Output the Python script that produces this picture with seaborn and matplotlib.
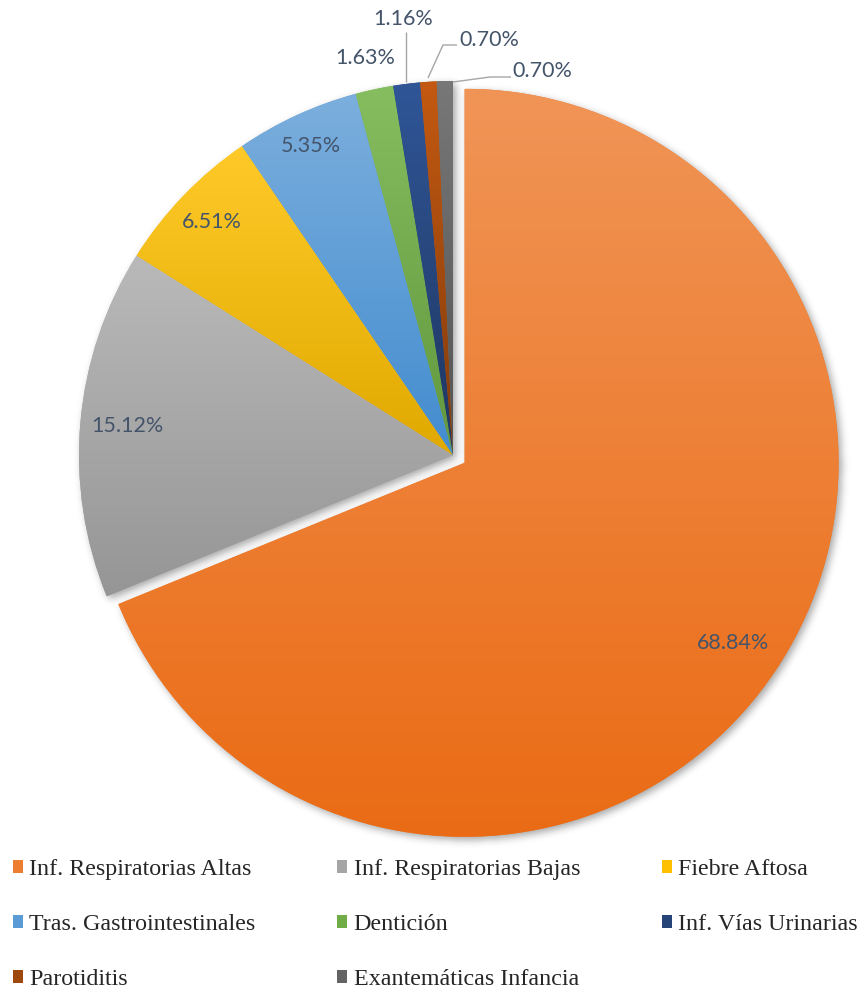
import colorsys
import numpy as np
import matplotlib
matplotlib.use("Agg")
import matplotlib.pyplot as plt
import seaborn as sns
from matplotlib.patches import Patch
from matplotlib.colors import to_rgb

# Diagnoses and their share of consultations (%)
categories = ["Inf. Respiratorias Altas", "Inf. Respiratorias Bajas", "Fiebre Aftosa",
              "Tras. Gastrointestinales", "Dentición", "Inf. Vías Urinarias",
              "Parotiditis", "Exantemáticas Infancia"]
percentages = [68.84, 15.12, 6.51, 5.35, 1.63, 1.16, 0.70, 0.70]
colors = ["#ED7D31", "#A5A5A5", "#FFC000", "#5B9BD5", "#70AD47", "#264478", "#9E480E", "#636363"]

sns.set_theme(style="white")
plt.rcParams["font.family"] = ["Lato", "DejaVu Sans"]

W, H = 859, 992
fig = plt.figure(figsize=(W / 100, H / 100), dpi=100)
ax = fig.add_axes([0, 0, 1, 1])

cx, cy, R = 453, H - 455, 374
explode = [14, 0, 0, 0, 0, 0, 0, 0]

wedges, _ = ax.pie(percentages, colors=colors, startangle=90, counterclock=False,
                   radius=R, center=(cx, cy), explode=explode,
                   wedgeprops=dict(linewidth=0), frame=True)


def shift_lightness(c, dl):
    h, l, s = colorsys.rgb_to_hls(*to_rgb(c))
    return np.array(colorsys.hls_to_rgb(h, min(max(l + dl, 0), 1), s))


# vertical gradient inside every slice: lighter on top, deeper at the bottom
for w, c in zip(wedges, colors):
    w.set_zorder(2)
    ext = w.get_path().get_extents()
    top = shift_lightness(c, 0.08)
    bot = shift_lightness(c, -0.06)
    t = np.linspace(0, 1, 256)[:, None]
    grad = np.clip(bot + (top - bot) * t, 0, 1)
    img = ax.imshow(grad[:, None, :], extent=(ext.x0, ext.x1, ext.y0, ext.y1),
                    origin="lower", aspect="auto", zorder=2.1, interpolation="bilinear")
    img.set_clip_path(w)


# soft drop shadow under the pie
def blur(a, s):
    k = np.exp(-0.5 * (np.arange(-3 * s, 3 * s + 1) / s) ** 2)
    k /= k.sum()
    a = np.apply_along_axis(lambda r: np.convolve(r, k, mode="same"), 1, a)
    a = np.apply_along_axis(lambda r: np.convolve(r, k, mode="same"), 0, a)
    return a


yy, xx = np.mgrid[0:H, 0:W] + 0.5
pts = np.column_stack([xx.ravel(), yy.ravel()])
mask = np.zeros(H * W)
for w in wedges:
    mask = np.maximum(mask, w.get_path().contains_points(pts))
mask = mask.reshape(H, W)
mask = np.roll(np.roll(mask, 3, axis=1), -3, axis=0)
mask = blur(mask, 4)
shadow = np.zeros((H, W, 4))
shadow[..., 3] = mask * 0.35
ax.imshow(shadow, extent=(0, W, 0, H), origin="lower", aspect="auto", zorder=1)

label_color = "#44546A"
label_size = 15.5

# labels inside the four large slices
inner_dist = [0.866, 0.874, 0.896, 0.91]
for w, p, d in zip(wedges[:4], percentages[:4], inner_dist):
    ang = np.deg2rad((w.theta1 + w.theta2) / 2)
    x = w.center[0] + d * R * np.cos(ang)
    y = w.center[1] + d * R * np.sin(ang)
    ax.text(x, y, f"{p:.2f}%", ha="center", va="center", color=label_color,
            fontsize=label_size, zorder=5)

# labels of the thin slices, placed above the pie
outer_pos = [(365, 58), (403, 19), (489, 40), (542, 71)]
for p, (px, py) in zip(percentages[4:], outer_pos):
    ax.text(px, H - py, f"{p:.2f}%", ha="center", va="center", color=label_color,
            fontsize=label_size, zorder=5)

leaders = [
    [(406, 82), (406, 32)],
    [(428, 78), (443, 45), (457, 45)],
    [(453, 82), (490, 77), (511, 77)],
]
for pl in leaders:
    xs = [q[0] for q in pl]
    ys = [H - q[1] for q in pl]
    ax.plot(xs, ys, color="#A6A6A6", lw=1, zorder=4, solid_capstyle="butt")

ax.set_xlim(0, W)
ax.set_ylim(0, H)
ax.set_aspect("equal")
ax.axis("off")

# legend laid out row by row in three columns
order = [0, 3, 6, 1, 4, 7, 2, 5]
handles = [Patch(facecolor=colors[i], edgecolor="none") for i in order]
labels = [categories[i] for i in order]
fig.legend(handles, labels, ncol=3, loc="upper left", bbox_to_anchor=(13 / W, 1 - 859 / H),
           frameon=False, borderpad=0, borderaxespad=0,
           prop={"family": "Liberation Serif", "size": 17.3},
           handlelength=0.42, handleheight=0.42, handletextpad=0.26,
           labelspacing=1.42, columnspacing=3.4)

fig.savefig("out.png", dpi=100)
